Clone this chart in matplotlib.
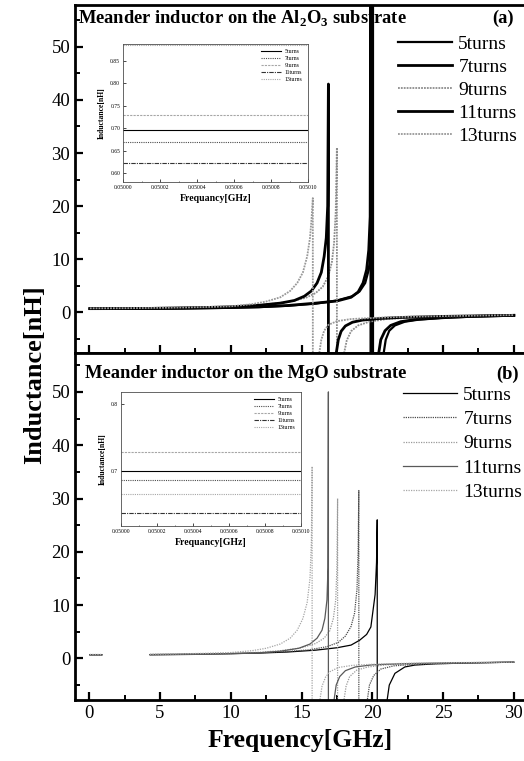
import numpy as np
import matplotlib
matplotlib.use("Agg")
import matplotlib.pyplot as plt
from matplotlib.ticker import MultipleLocator, FormatStrFormatter

plt.rcParams['font.family'] = ['Liberation Serif', 'DejaVu Serif']
plt.rcParams['mathtext.fontset'] = 'custom'
plt.rcParams['mathtext.rm'] = 'Liberation Serif'
plt.rcParams['mathtext.bf'] = 'Liberation Serif:bold'

nan = np.nan
labels = ['5turns', '7turns', '9turns', '11turns', '13turns']

# ---- (a) Al2O3 substrate ----
al5_f = [0.05, 2, 4, 6, 8, 10, 12, 14, 16, 17.5, 18.6, 19.1, 19.5, 19.75, 19.9, 20.0, 20.05, 20.05,
         20.8, 20.95, 21.2, 21.6, 22.3, 23.3, 25, 27, 30]
al5_L = [0.62, 0.63, 0.65, 0.68, 0.74, 0.82, 0.95, 1.2, 1.6, 2.2, 3.0, 3.9, 5.5, 8.0, 11.5, 17, 80, -60,
         -7.8, -5.2, -3.5, -2.5, -1.8, -1.4, -1.1, -0.85, -0.65]
al7_f = [0.05, 2, 4, 6, 8, 10, 12, 14, 16, 17.5, 18.5, 19.0, 19.35, 19.6, 19.75, 19.85, 19.9, 19.9,
         20.45, 20.6, 20.9, 21.3, 22, 23, 25, 27, 30]
al7_L = [0.67, 0.68, 0.7, 0.74, 0.8, 0.88, 1.0, 1.25, 1.7, 2.1, 2.8, 3.8, 5.5, 8.0, 11.7, 18, 80, -60,
         -7.8, -5.2, -3.5, -2.5, -1.8, -1.4, -1.0, -0.8, -0.6]
al9_f = [0.05, 2, 4, 6, 8, 10, 12, 14, 15.3, 16.0, 16.5, 16.9, 17.15, 17.3, 17.42, 17.5, 17.5,
         18.0, 18.2, 18.5, 19, 19.8, 21, 23, 26, 30]
al9_L = [0.7, 0.71, 0.74, 0.8, 0.9, 1.05, 1.3, 1.9, 2.7, 3.6, 4.8, 6.8, 9.5, 13, 19, 31, -60,
         -7.8, -5.3, -3.6, -2.5, -1.8, -1.3, -1.0, -0.8, -0.6]
al11_f = [0.05, 2, 4, 6, 8, 10, 12, 13.5, 14.5, 15.2, 15.7, 16.1, 16.4, 16.6, 16.75, 16.85, 16.9, 16.9,
          17.45, 17.6, 17.8, 18.1, 18.6, 19.3, 20.5, 22, 25, 30]
al11_L = [0.66, 0.67, 0.7, 0.76, 0.86, 1.0, 1.3, 1.7, 2.2, 3.0, 4.0, 5.5, 7.5, 10.5, 14, 20, 43, -60,
          -7.8, -5.2, -3.6, -2.6, -1.9, -1.5, -1.2, -1.0, -0.8, -0.6]
al13_f = [0.05, 2, 4, 6, 8, 10, 11.5, 12.5, 13.5, 14.2, 14.7, 15.1, 15.4, 15.6, 15.72, 15.8, 15.8,
          16.25, 16.4, 16.6, 16.9, 17.5, 18.5, 20, 22, 25, 30]
al13_L = [0.72, 0.74, 0.78, 0.85, 0.95, 1.1, 1.5, 2.0, 2.8, 4.0, 5.5, 7.5, 10.5, 14, 18, 21.5, -60,
          -7.8, -5.2, -3.5, -2.4, -1.7, -1.3, -1.1, -0.9, -0.75, -0.55]

# ---- (b) MgO substrate ----
mg5_f = [0.05, 0.9, nan, 4.3, 6, 8, 10, 12, 14, 16, 17.5, 18.5, 19.1, 19.6, 19.9, 20.2, 20.3, 20.35, 20.35,
         21.05, 21.2, 21.6, 22.3, 23, 24.5, 27, 30]
mg5_L = [0.7, 0.7, nan, 0.72, 0.76, 0.82, 0.9, 1.0, 1.2, 1.55, 2.0, 2.5, 3.4, 4.5, 5.9, 12, 18, 26, -60,
         -7.8, -5.0, -2.8, -1.6, -1.25, -1.0, -0.85, -0.7]
mg7_f = [0.05, 0.9, nan, 4.3, 6, 8, 10, 12, 14, 15.5, 16.8, 17.6, 18.1, 18.5, 18.75, 18.92, 19.0, 19.05, 19.05,
         19.65, 19.8, 20.1, 20.6, 21.5, 23, 26, 30]
mg7_L = [0.69, 0.69, nan, 0.71, 0.75, 0.82, 0.92, 1.05, 1.3, 1.6, 2.2, 3.0, 4.2, 6.0, 8.5, 13, 20, 31.5, -60,
         -7.8, -5.0, -3.2, -2.0, -1.4, -1.1, -0.9, -0.7]
mg9_f = [0.05, 0.9, nan, 4.3, 6, 8, 10, 12, 13.5, 15, 16, 16.6, 17.0, 17.25, 17.42, 17.5, 17.55, 17.55,
         18.0, 18.15, 18.4, 18.9, 19.7, 21, 23, 26, 30]
mg9_L = [0.73, 0.73, nan, 0.75, 0.8, 0.87, 0.98, 1.15, 1.45, 2.0, 2.8, 3.8, 5.2, 7.5, 11, 17, 30, -60,
         -7.8, -5.2, -3.4, -2.2, -1.6, -1.2, -1.0, -0.85, -0.7]
mg11_f = [0.05, 0.9, nan, 4.3, 6, 8, 10, 12, 13.5, 14.8, 15.6, 16.1, 16.45, 16.65, 16.8, 16.87, 16.9, 16.9,
          17.3, 17.45, 17.7, 18.1, 18.8, 20, 22, 25, 30]
mg11_L = [0.64, 0.64, nan, 0.66, 0.7, 0.78, 0.88, 1.05, 1.35, 1.9, 2.7, 3.8, 5.3, 7.5, 11, 17, 50, -60,
          -7.8, -5.0, -3.4, -2.3, -1.6, -1.2, -1.0, -0.85, -0.7]
mg13_f = [0.05, 0.9, nan, 4.3, 6, 8, 10, 11.5, 12.5, 13.5, 14.2, 14.7, 15.1, 15.4, 15.6, 15.7, 15.75, 15.75,
          16.3, 16.45, 16.7, 17.0, 17.6, 18.6, 20, 22, 25, 30]
mg13_L = [0.73, 0.73, nan, 0.78, 0.84, 0.95, 1.1, 1.45, 1.9, 2.7, 3.8, 5.3, 7.5, 10.5, 15, 22, 36, -60,
          -7.8, -5.2, -3.5, -2.5, -1.7, -1.3, -1.1, -0.95, -0.8, -0.7]

# ---- insets (constant lines between 0.05000 and 0.05010 GHz) ----
ins_f = [0.05000, 0.05010]
ins_al = [0.697, 0.670, 0.730, 0.622, 0.885]
ins_mg = [0.700, 0.686, 0.729, 0.637, 0.666]

al_f = [al5_f, al7_f, al9_f, al11_f, al13_f]
al_L = [al5_L, al7_L, al9_L, al11_L, al13_L]
mg_f = [mg5_f, mg7_f, mg9_f, mg11_f, mg13_f]
mg_L = [mg5_L, mg7_L, mg9_L, mg11_L, mg13_L]

al_style = [dict(color='black', lw=1.6, ls='-'),
            dict(color='black', lw=2.0, ls='-'),
            dict(color='0.55', lw=1.3, ls=(0, (1, 0.6))),
            dict(color='black', lw=2.0, ls='-'),
            dict(color='0.6', lw=1.3, ls=(0, (1, 0.6)))]
mg_style = [dict(color='black', lw=0.9, ls='-'),
            dict(color='0.3', lw=0.9, ls=(0, (1, 0.8))),
            dict(color='0.6', lw=0.9, ls=(0, (1, 1))),
            dict(color='0.35', lw=0.9, ls='-'),
            dict(color='0.65', lw=0.9, ls=(0, (1, 1)))]
ins_style = [dict(color='black', lw=0.8, ls='-'),
             dict(color='0.3', lw=0.8, ls=(0, (1, 1))),
             dict(color='0.65', lw=0.8, ls=(0, (2, 1))),
             dict(color='0.2', lw=0.8, ls=(0, (4, 1, 1, 1))),
             dict(color='0.65', lw=0.8, ls=(0, (1, 1)))]

W, H = 524, 761
fig = plt.figure(figsize=(W / 100, H / 100), dpi=100)


def px(x0, y0, x1, y1):
    return [x0 / W, 1 - y1 / H, (x1 - x0) / W, (y1 - y0) / H]


def style_main(ax, ylim, xlabels):
    ax.set_xlim(-1, 31)
    ax.set_ylim(*ylim)
    ax.xaxis.set_major_locator(MultipleLocator(5))
    ax.xaxis.set_minor_locator(MultipleLocator(2.5))
    ax.yaxis.set_major_locator(MultipleLocator(10))
    ax.yaxis.set_minor_locator(MultipleLocator(5))
    ax.set_yticks([0, 10, 20, 30, 40, 50])
    ax.tick_params(which='major', direction='in', length=6, width=1.6, labelsize=13.5)
    ax.tick_params(which='minor', direction='in', length=3.5, width=1.4)
    ax.tick_params(axis='x', labelbottom=xlabels)
    for s in ax.spines.values():
        s.set_linewidth(2)


def style_inset(ax, ylim, yticks, yfmt):
    ax.set_xlim(0.05000, 0.05010)
    ax.set_ylim(*ylim)
    ax.set_xticks([0.05000, 0.05002, 0.05004, 0.05006, 0.05008, 0.05010])
    ax.xaxis.set_major_formatter(FormatStrFormatter('%.5f'))
    ax.set_yticks(yticks)
    ax.yaxis.set_major_formatter(FormatStrFormatter(yfmt))
    ax.xaxis.set_minor_locator(MultipleLocator(0.00001))
    ax.tick_params(which='major', direction='in', length=2, width=0.5, labelsize=4, pad=2)
    ax.tick_params(which='minor', direction='in', length=1, width=0.4)
    for s in ax.spines.values():
        s.set_linewidth(0.6)
        s.set_color('0.3')
    ax.set_xlabel('Frequancy[GHz]', fontsize=7, fontweight='bold', labelpad=3)
    ax.set_ylabel('Inductance[nH]', fontsize=5.5, fontweight='bold', labelpad=3)


# top panel
ax1 = fig.add_axes(px(75, 5, 528, 353))
for f, L, st, lab in zip(al_f, al_L, al_style, labels):
    ax1.plot(f, L, label=lab, **st)
style_main(ax1, (-7.7, 57.9), False)
ax1.legend(loc='upper left', bbox_to_anchor=(398 / W, 1 - 35 / H), bbox_transform=fig.transFigure,
           frameon=False, fontsize=14, handlelength=2.8, handletextpad=0.3, labelspacing=0.28,
           borderpad=0, borderaxespad=0)

# bottom panel
ax2 = fig.add_axes(px(75, 353, 528, 700))
for f, L, st, lab in zip(mg_f, mg_L, mg_style, labels):
    ax2.plot(f, L, label=lab, **st)
style_main(ax2, (-7.8, 57.3), True)
ax2.legend(loc='upper left', bbox_to_anchor=(403 / W, 1 - 386 / H), bbox_transform=fig.transFigure,
           frameon=False, fontsize=14, handlelength=2.8, handletextpad=0.3, labelspacing=0.35,
           borderpad=0, borderaxespad=0)

# insets
in1 = fig.add_axes(px(123, 44, 308, 182))
for v, st, lab in zip(ins_al, ins_style, labels):
    in1.plot(ins_f, [v, v], label=lab, **st)
style_inset(in1, (0.58, 0.888), [0.60, 0.65, 0.70, 0.75, 0.80, 0.85], '%.2f')
in1.legend(loc='upper right', frameon=False, fontsize=4.2, handlelength=3.5, labelspacing=0.3,
           borderpad=0.4, handletextpad=0.6)

in2 = fig.add_axes(px(121, 392, 301, 526))
for v, st, lab in zip(ins_mg, ins_style, labels):
    in2.plot(ins_f, [v, v], label=lab, **st)
style_inset(in2, (0.618, 0.818), [0.7, 0.8], '%.1f')
in2.legend(loc='upper right', frameon=False, fontsize=4.2, handlelength=3.5, labelspacing=0.3,
           borderpad=0.4, handletextpad=0.6)

# titles and axis labels
fig.text(78 / W, 1 - 18 / H, r'Meander inductor on the Al$_\mathbf{2}$O$_\mathbf{3}$ substrate',
         fontsize=13.3, fontweight='bold', va='center', ha='left')
fig.text(503 / W, 1 - 18 / H, '(a)', fontsize=13.3, fontweight='bold', va='center', ha='center')
fig.text(85 / W, 1 - 374 / H, 'Meander inductor on the MgO substrate',
         fontsize=13.3, fontweight='bold', va='center', ha='left')
fig.text(508 / W, 1 - 374 / H, '(b)', fontsize=13.3, fontweight='bold', va='center', ha='center')
fig.text(35 / W, 1 - 375 / H, 'Inductance[nH]', fontsize=19, fontweight='bold', rotation=90,
         va='center', ha='center')
fig.text(300 / W, 1 - 741 / H, 'Frequency[GHz]', fontsize=18.5, fontweight='bold',
         va='center', ha='center')

fig.savefig('out.png', dpi=100)
